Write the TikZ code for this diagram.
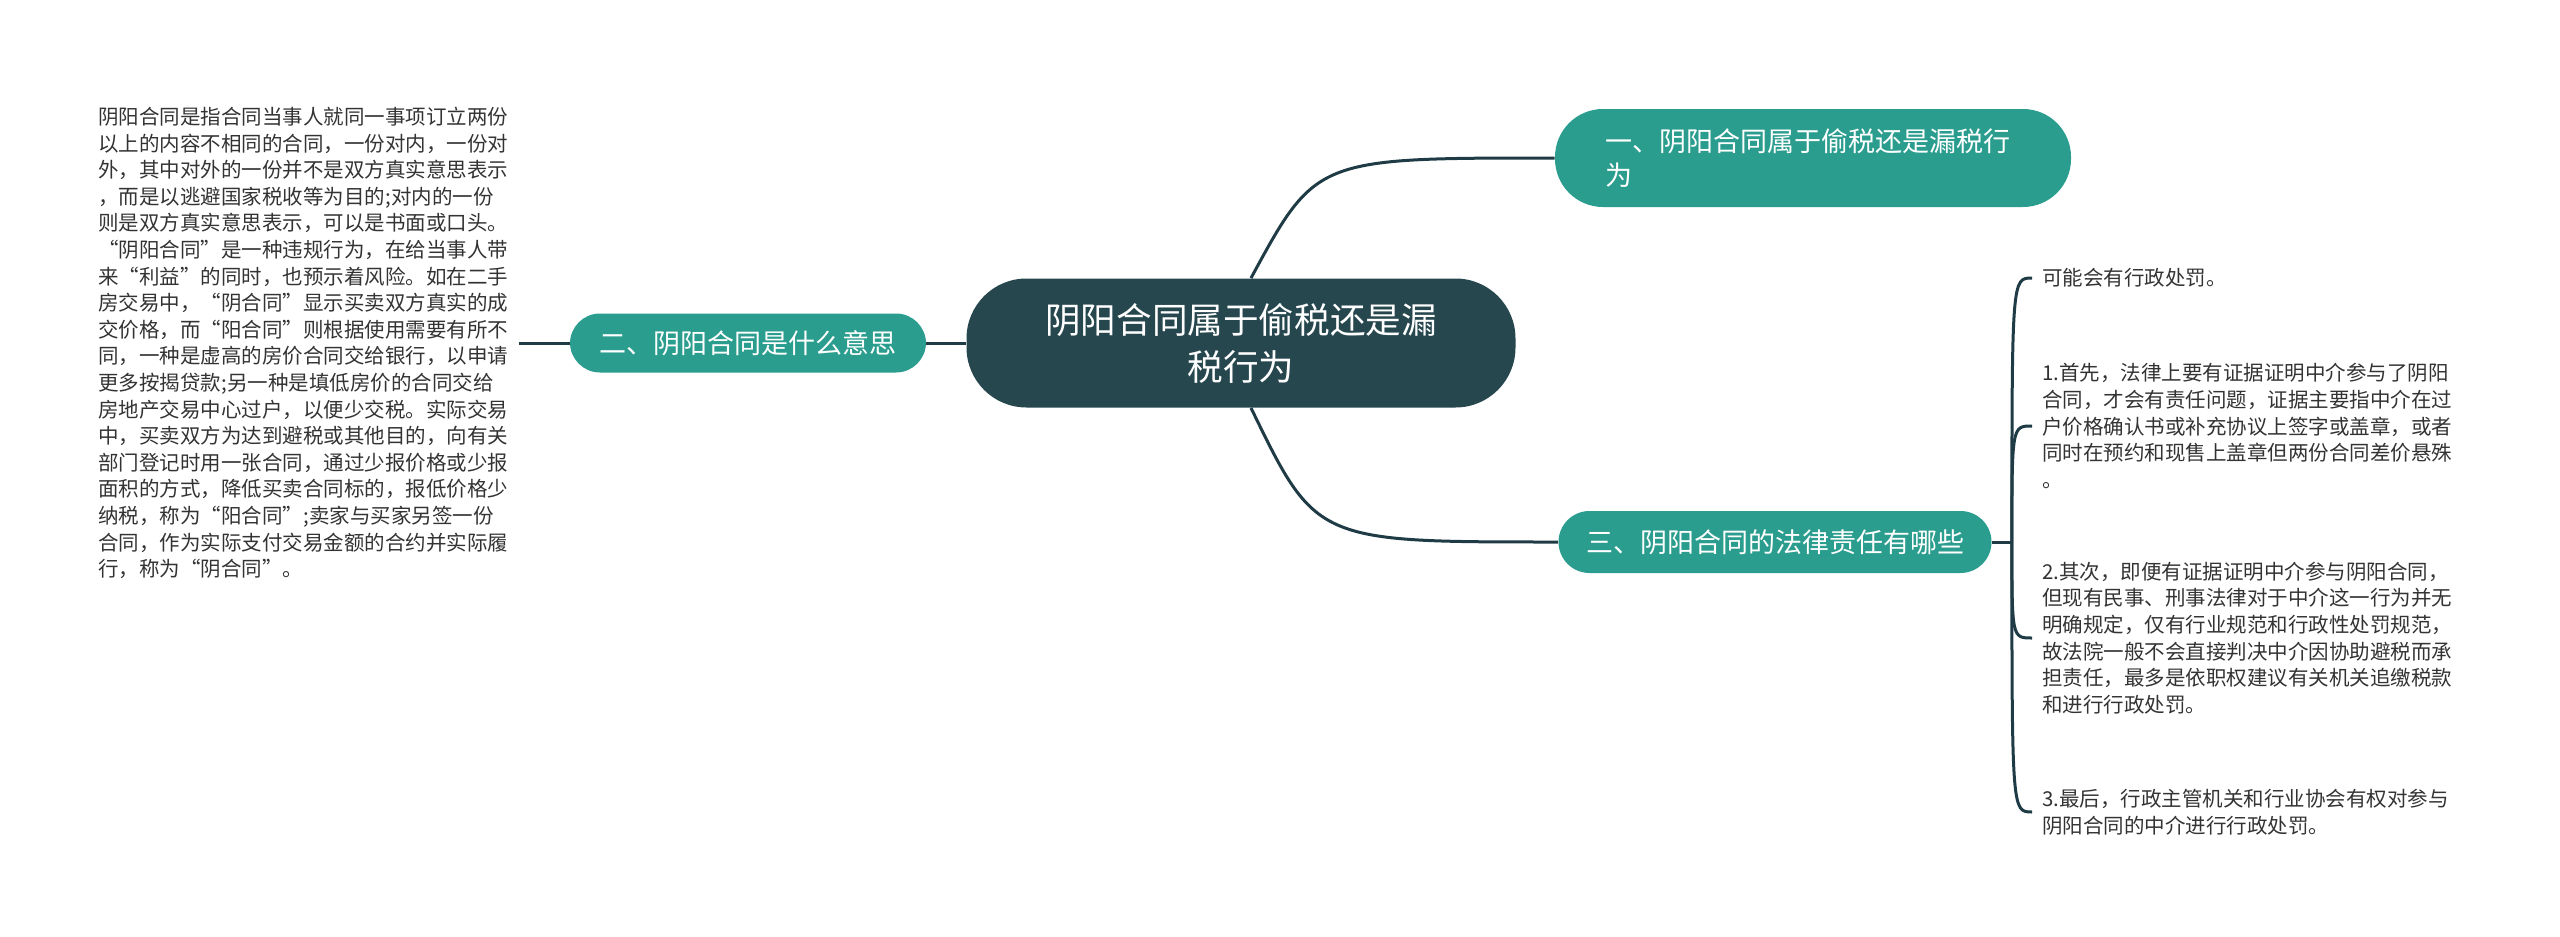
\documentclass[tikz,border=0pt]{standalone}
\usepackage{fontspec}
\usetikzlibrary{calc}
\setmainfont{Noto Sans CJK SC}
\definecolor{rootcol}{HTML}{27474F}
\definecolor{branchcol}{HTML}{2A9D8E}
\definecolor{linecol}{HTML}{1F3B45}
\definecolor{textcol}{HTML}{333333}
\begin{document}
\begin{tikzpicture}[x=0.5pt,y=-0.5pt,
    root/.style={fill=rootcol,text=white,rounded corners=30pt,minimum width=274.5pt,minimum height=64.5pt,align=center,font=\fontsize{17.8}{23.5}\selectfont},
    branch/.style={fill=branchcol,text=white,font=\fontsize{13.5}{17}\selectfont},
    leaf/.style={text=textcol,align=left,inner sep=5pt,font=\fontsize{10.25}{13.3}\selectfont},
    link/.style={draw=linecol,line width=1.5pt}]
            \useasboundingbox (0,0) rectangle (2560,937);

            \node[root] (root) at (1241,343) {阴阳合同属于偷税还是漏\\税行为};
            \node[branch,rounded corners=24pt,minimum width=258pt,minimum height=49pt,text width=208pt,align=left] (b1) at (1813,158) {一、阴阳合同属于偷税还是漏税行\\为};
            \node[branch,rounded corners=15pt,minimum width=178pt,minimum height=29.5pt] (b2) at (748,343) {二、阴阳合同是什么意思};
            \node[branch,rounded corners=15.5pt,minimum width=216.5pt,minimum height=31pt] (b3) at (1775,542) {三、阴阳合同的法律责任有哪些};

            \node[leaf,anchor=west] (lt) at (88,343) {阴阳合同是指合同当事人就同一事项订立两份\\以上的内容不相同的合同，一份对内，一份对\\外，其中对外的一份并不是双方真实意思表示\\，而是以逃避国家税收等为目的;对内的一份\\则是双方真实意思表示，可以是书面或口头。\\“阴阳合同”是一种违规行为，在给当事人带\\来“利益”的同时，也预示着风险。如在二手\\房交易中，“阴合同”显示买卖双方真实的成\\交价格，而“阳合同”则根据使用需要有所不\\同，一种是虚高的房价合同交给银行，以申请\\更多按揭贷款;另一种是填低房价的合同交给\\房地产交易中心过户，以便少交税。实际交易\\中，买卖双方为达到避税或其他目的，向有关\\部门登记时用一张合同，通过少报价格或少报\\面积的方式，降低买卖合同标的，报低价格少\\纳税，称为“阳合同”;卖家与买家另签一份\\合同，作为实际支付交易金额的合约并实际履\\行，称为“阴合同”。};

            \node[leaf,anchor=west] (r0) at (2032,278) {可能会有行政处罚。};
            \node[leaf,anchor=west] (r1) at (2032,426) {1.首先，法律上要有证据证明中介参与了阴阳\\合同，才会有责任问题，证据主要指中介在过\\户价格确认书或补充协议上签字或盖章，或者\\同时在预约和现售上盖章但两份合同差价悬殊\\。};
            \node[leaf,anchor=west] (r2) at (2032,638) {2.其次，即便有证据证明中介参与阴阳合同，\\但现有民事、刑事法律对于中介这一行为并无\\明确规定，仅有行业规范和行政性处罚规范，\\故法院一般不会直接判决中介因协助避税而承\\担责任，最多是依职权建议有关机关追缴税款\\和进行行政处罚。};
            \node[leaf,anchor=west] (r3) at (2032,812) {3.最后，行政主管机关和行业协会有权对参与\\阴阳合同的中介进行行政处罚。};

            \coordinate (rt) at ([xshift=5pt]root.north);
            \coordinate (rb) at ([xshift=5pt]root.south);
            \coordinate (fork) at ([xshift=10pt]b3.east);

            \draw[link] (root.west) -- (b2.east);
            \draw[link] (lt.east) -- (b2.west);
            \draw[link] (rt) .. controls ($(rt |- b1.west)+(65,0)$) .. (b1.west);
            \draw[link] (rb) .. controls ($(rb |- b3.west)+(65,0)$) .. (b3.west);
            \draw[link] (b3.east) -- (fork);
            \foreach \r in {r0,r1,r2,r3}
                \draw[link] (fork) .. controls (fork |- \r.west) .. (\r.west);
\end{tikzpicture}
\end{document}
